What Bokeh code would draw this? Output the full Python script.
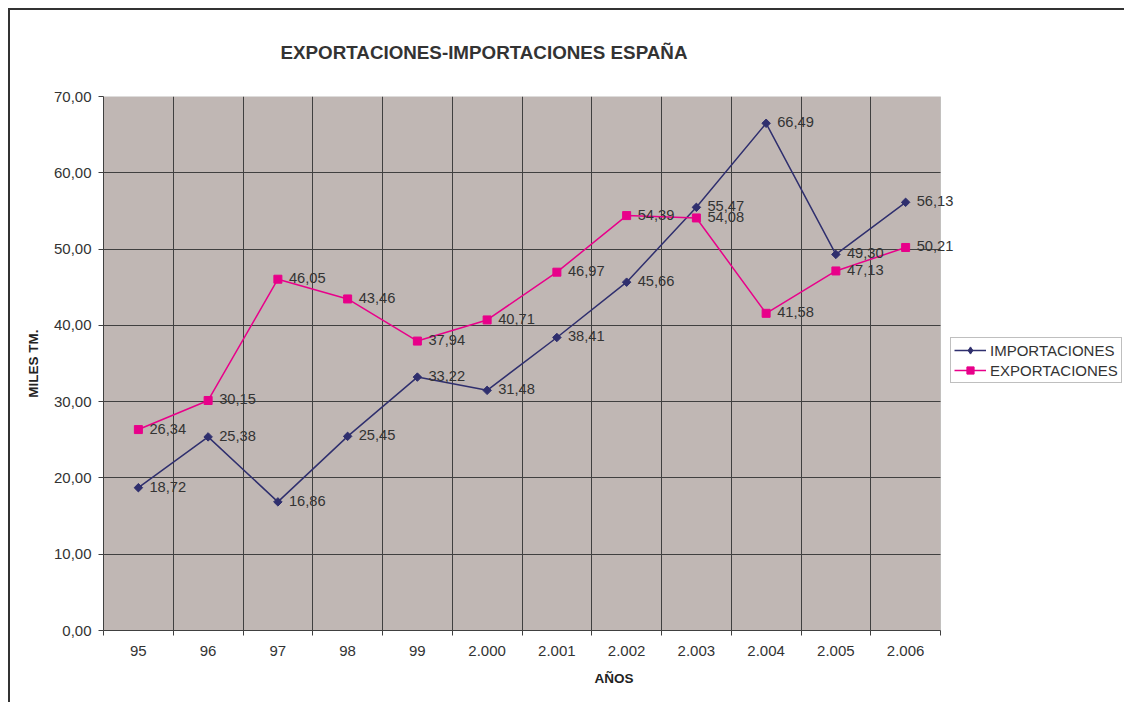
import math
from bokeh.plotting import figure
from bokeh.models import (Range1d, FixedTicker, Legend, LegendItem, ColumnDataSource,
                          BoxAnnotation, InlineStyleSheet)
from bokeh.core.properties import value
from bokeh.embed import file_html
from bokeh.resources import INLINE

# ---- data ----
years = ["95", "96", "97", "98", "99", "2.000", "2.001", "2.002", "2.003", "2.004", "2.005", "2.006"]
importaciones = [18.72, 25.38, 16.86, 25.45, 33.22, 31.48, 38.41, 45.66, 55.47, 66.49, 49.30, 56.13]
exportaciones = [26.34, 30.15, 46.05, 43.46, 37.94, 40.71, 46.97, 54.39, 54.08, 41.58, 47.13, 50.21]
y_ticks = [0, 10, 20, 30, 40, 50, 60, 70]

FONT = "Liberation Sans"
NAVY = "#2f2f6e"
PINK = "#e8008a"
TXT = "#333333"
GRID = "#404040"

W, H = 1124, 702
LEFT, TOP, BOTTOM = 103, 96, 72
PLOT_W = 837          # width in px of the grey plot area
FRAME_W = W - LEFT    # frame extends to the right edge (room for legend / labels)

def fmt(v):
    return f"{v:.2f}".replace(".", ",")

n = len(years)
xc = [i + 0.5 for i in range(n)]

p = figure(width=W, height=H, output_backend="svg", toolbar_location=None,
           x_range=Range1d(0, n * FRAME_W / PLOT_W), y_range=Range1d(0, 70),
           min_border_left=LEFT, min_border_top=TOP, min_border_right=0,
           min_border_bottom=BOTTOM)
p.background_fill_color = "white"
p.border_fill_color = "white"
p.outline_line_color = None

# grey plot area
area = BoxAnnotation(left=0, right=n, bottom=0, top=70, fill_color="#c0b7b4",
                     fill_alpha=1, line_color="#808080", line_width=1, level="image")
p.add_layout(area)

# title
p.title.text = "EXPORTACIONES-IMPORTACIONES ESPAÑA"
p.title.text_font = FONT
p.title.text_font_size = "18.8px"
p.title.text_font_style = "bold"
p.title.text_color = TXT
p.title.align = "left"
p.title.offset = 177
p.title.standoff = 68

# axes
xa = p.xaxis[0]
xa.bounds = (0, n)
xa.ticker = FixedTicker(ticks=xc, minor_ticks=list(range(n + 1)))
xa.major_label_overrides = {x: y for x, y in zip(xc, years)}
xa.major_tick_out = 0
xa.major_tick_in = 0
xa.minor_tick_out = 5
xa.minor_tick_in = 0
xa.minor_tick_line_color = GRID
xa.axis_line_color = GRID
xa.major_label_text_font = FONT
xa.major_label_text_font_size = "15px"
xa.major_label_text_color = TXT
xa.major_label_standoff = 10
xa.axis_label = "AÑOS"
xa.axis_label_text_font = FONT
xa.axis_label_text_font_size = "13.5px"
xa.axis_label_text_font_style = "bold"
xa.axis_label_text_color = "#222222"
xa.axis_label_standoff = 12

ya = p.yaxis[0]
ya.ticker = FixedTicker(ticks=y_ticks, minor_ticks=[])
ya.major_label_overrides = {t: fmt(t) for t in y_ticks}
ya.major_tick_out = 5
ya.major_tick_in = 0
ya.major_tick_line_color = GRID
ya.axis_line_color = GRID
ya.major_label_text_font = FONT
ya.major_label_text_font_size = "15px"
ya.major_label_text_color = TXT
ya.major_label_standoff = 7
ya.axis_label = "MILES TM."
ya.axis_label_text_font = FONT
ya.axis_label_text_font_size = "13.5px"
ya.axis_label_text_font_style = "bold"
ya.axis_label_text_color = "#222222"
ya.axis_label_standoff = 10

p.xgrid.ticker = FixedTicker(ticks=list(range(1, n)))
p.xgrid.grid_line_color = GRID
try:
    p.ygrid.ticker = FixedTicker(ticks=y_ticks[1:-1])
    p.ygrid.cross_bounds = (0, n)
    p.ygrid.grid_line_color = GRID
except AttributeError:
    p.ygrid.grid_line_color = None
    p.segment(x0=0, x1=n, y0=y_ticks[1:-1], y1=y_ticks[1:-1], line_color=GRID,
              line_width=1, level="underlay")

src = ColumnDataSource(dict(x=xc, imp=importaciones, exp=exportaciones,
                            imp_t=[fmt(v) for v in importaciones],
                            exp_t=[fmt(v) for v in exportaciones]))

l1 = p.line("x", "imp", source=src, line_color=NAVY, line_width=1.5)
m1 = p.scatter("x", "imp", source=src, marker="square", size=6, angle=math.pi / 4,
               fill_color=NAVY, line_color=NAVY, line_width=1)
l2 = p.line("x", "exp", source=src, line_color=PINK, line_width=1.5)
m2 = p.scatter("x", "exp", source=src, marker="square", size=8,
               fill_color=PINK, line_color=PINK, line_width=1)
# legend-only diamond (no visible data)
m1_leg = p.scatter(x=[float("nan")], y=[float("nan")], marker="diamond", size=11,
                   fill_color=NAVY, line_color=NAVY)

for col, ycol in (("imp_t", "imp"), ("exp_t", "exp")):
    p.text("x", ycol, text=col, source=src, x_offset=11, y_offset=-1,
           text_baseline="middle", text_align="left", text_font=value(FONT),
           text_font_size="14.7px", text_color=TXT)

legend = Legend(items=[LegendItem(label="IMPORTACIONES", renderers=[l1, m1_leg]),
                       LegendItem(label="EXPORTACIONES", renderers=[l2, m2])],
                location=(847, 247))
legend.label_text_font = FONT
legend.label_text_font_size = "15px"
legend.label_text_color = TXT
legend.border_line_color = "#808080"
legend.border_line_width = 1
legend.background_fill_color = "white"
legend.background_fill_alpha = 1
legend.padding = 3
legend.margin = 0
legend.spacing = 2
legend.glyph_width = 32
legend.glyph_height = 18
legend.label_height = 18
legend.label_standoff = 4
p.add_layout(legend, "center")

# outer chart border: only its left and top edges are inside the picture
p.stylesheets = [InlineStyleSheet(css=(
    ":host { position: relative; }"
    ":host::after { content: ''; position: absolute; left: 8px; top: 8px;"
    " width: 1116px; height: 694px; border-left: 2px solid #333333;"
    " border-top: 2px solid #333333; box-sizing: border-box; pointer-events: none; }"
))]

open("out.html", "w").write(file_html(p, INLINE))
